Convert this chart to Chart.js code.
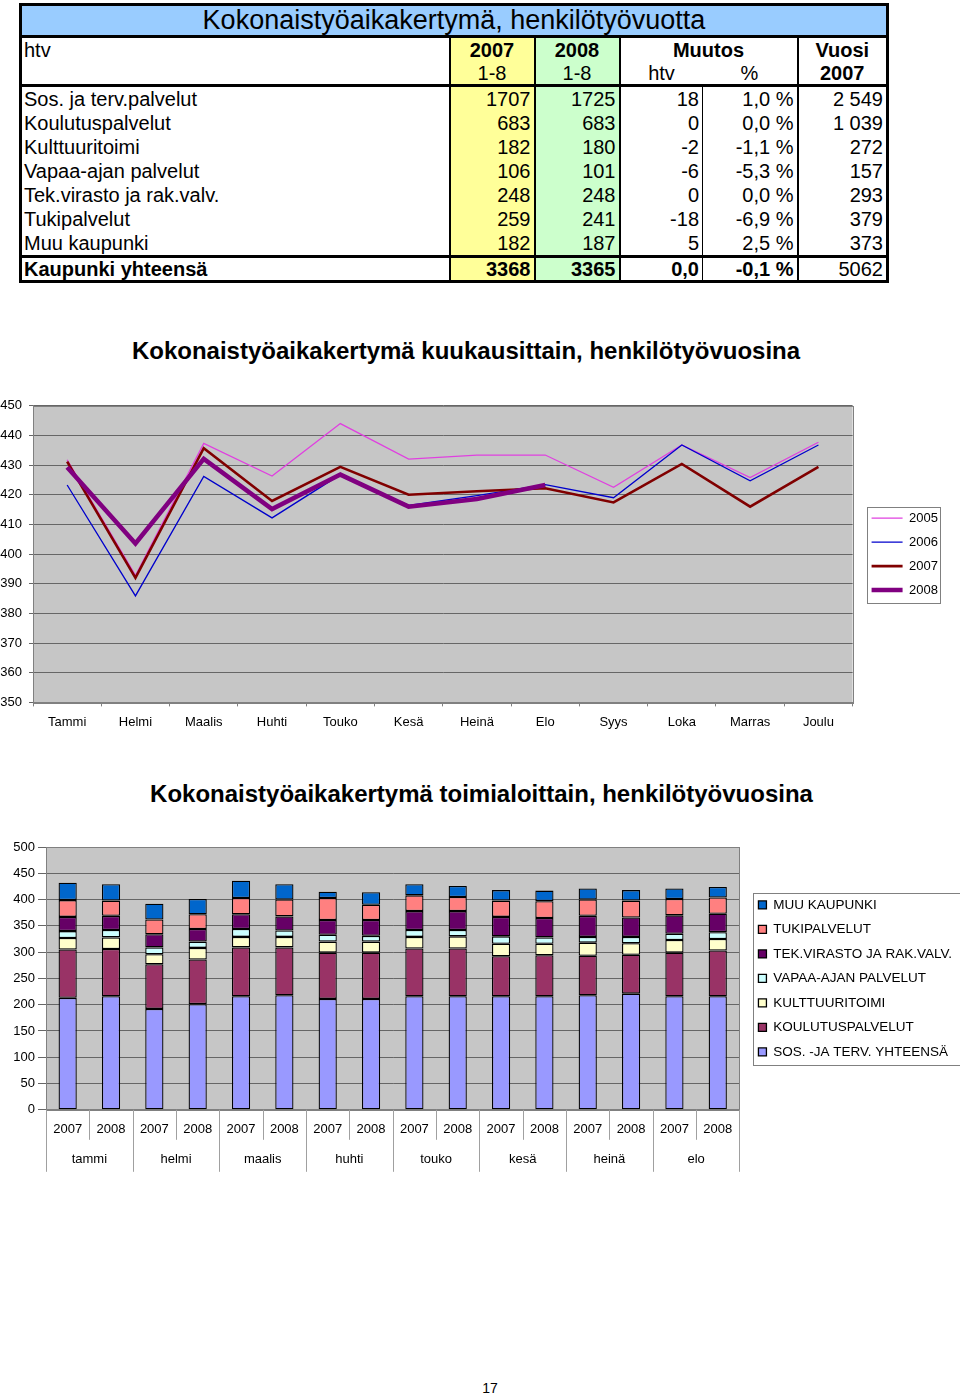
<!DOCTYPE html>
<html>
<head>
<meta charset="utf-8">
<script src="https://cdn.jsdelivr.net/npm/chart.js@4.4.1/dist/chart.umd.min.js"></script>
<style>
html, body { margin: 0; padding: 0; background: #fff; }
body { position: relative; width: 960px; height: 1397px; overflow: hidden; font-family: 'Liberation Sans', Arial, sans-serif; }
#tbl { position: absolute; left: 19px; top: 3px; width: 867px; border-collapse: collapse; table-layout: fixed; font-size: 20px; border: 3px solid #000; }
#tbl td { padding: 0 3px; height: 24px; line-height: 22px; white-space: nowrap; overflow: hidden; }
#tbl .c1 { background: #ffff99; border-left: 2px solid #000; }
#tbl .c2 { background: #ccffcc; border-left: 2px solid #000; }
#tbl .c3 { border-left: 2px solid #000; }
#tbl .c4 { border-left: 1px solid #000; }
#tbl .c5 { border-left: 2px solid #000; }
#tbl .c { text-align: center; }
#tbl .r { text-align: right; }
#tbl .b { font-weight: bold; }
#tbl tr.otsikko td { background: #99ccff; height: 29px; line-height: 29px; font-size: 27px; text-align: center; border-bottom: 3px solid #000; }
#tbl tr.h1 td { height: 24px; }
#tbl tr.h2 td { height: 22px; border-bottom: 3px solid #000; }
#tbl tr.tot td { border-top: 3px solid #000; font-weight: bold; height: 22px; }
#tbl tr.tot td.nb { font-weight: normal; }
#tbl td.nimi { padding-left: 2px; }
.ctitle { position: absolute; left: 0; font-weight: bold; font-size: 24px; line-height: 28px; text-align: center; white-space: nowrap; }
#t1 { top: 337px; width: 932px; }
#t2 { top: 780px; width: 963px; }
canvas { position: absolute; left: 0; }
#lineChart { top: 391px; }
#barChart { top: 830px; }
#sivu { position: absolute; left: 480px; top: 1380px; width: 20px; text-align: center; font-size: 14px; }
</style>
</head>
<body>
<table id="tbl"></table>
<div class="ctitle" id="t1">Kokonaistyöaikakertymä kuukausittain, henkilötyövuosina</div>
<canvas id="lineChart" width="960" height="356"></canvas>
<div class="ctitle" id="t2">Kokonaistyöaikakertymä toimialoittain, henkilötyövuosina</div>
<canvas id="barChart" width="960" height="349"></canvas>
<div id="sivu">17</div>
<script>
// --- taulukon tiedot ---
var riviNimet = ['Sos. ja terv.palvelut', 'Koulutuspalvelut', 'Kulttuuritoimi', 'Vapaa-ajan palvelut', 'Tek.virasto ja rak.valv.', 'Tukipalvelut', 'Muu kaupunki'];
var htv2007 = ['1707', '683', '182', '106', '248', '259', '182'];
var htv2008 = ['1725', '683', '180', '101', '248', '241', '187'];
var muutosHtv = ['18', '0', '-2', '-6', '0', '-18', '5'];
var muutosPros = ['1,0 %', '0,0 %', '-1,1 %', '-5,3 %', '0,0 %', '-6,9 %', '2,5 %'];
var vuosi2007 = ['2 549', '1 039', '272', '157', '293', '379', '373'];
var yhteensa = ['Kaupunki yhteensä', '3368', '3365', '0,0', '-0,1 %', '5062'];

// --- viivakaavion tiedot ---
var kuukaudet = ['Tammi', 'Helmi', 'Maalis', 'Huhti', 'Touko', 'Kesä', 'Heinä', 'Elo', 'Syys', 'Loka', 'Marras', 'Joulu'];
var v2005 = [431.8, 392.8, 437.3, 426.3, 444.0, 432.0, 433.4, 433.4, 422.5, 436.8, 425.8, 437.7];
var v2006 = [423.3, 385.9, 426.2, 412.2, 426.8, 416.4, 419.7, 423.4, 419.0, 436.8, 424.7, 436.8];
var v2007 = [431.2, 392.0, 435.7, 417.9, 429.4, 420.0, 421.2, 422.2, 417.4, 430.4, 416.0, 429.4];
var v2008 = [429.3, 403.6, 432.1, 415.2, 426.8, 416.0, 418.6, 423.3, null, null, null, null];

// --- pylväskaavion tiedot ---
var vuodet = ['2007', '2008', '2007', '2008', '2007', '2008', '2007', '2008', '2007', '2008', '2007', '2008', '2007', '2008', '2007', '2008'];
var ryhmat = ['tammi', 'helmi', 'maalis', 'huhti', 'touko', 'kesä', 'heinä', 'elo'];
var sosTerv = [213, 216, 192, 201, 216, 218, 211, 211, 216, 216, 216, 216, 218, 221, 216, 216];
var koulutus = [92, 90, 85, 85, 93, 91, 88, 88, 91, 91, 76, 78, 75, 74, 83, 87];
var kulttuuri = [22, 22, 19, 22, 20, 20, 21, 21, 22, 23, 24, 22, 25, 22, 24, 22];
var vapaaAika = [13, 14, 13, 12, 15, 12, 13, 11, 13, 12, 14, 12, 11, 12, 12, 13];
var tekVirasto = [27, 27, 25, 24, 28, 27, 28, 30, 36, 36, 37, 37, 40, 37, 35, 35];
var tukipalvelut = [32, 29, 28, 28, 31, 32, 42, 29, 30, 27, 31, 32, 31, 32, 31, 31];
var muuKaupunki = [33, 31, 30, 29, 33, 29, 12, 24, 21, 21, 20, 20, 21, 20, 20, 20];

// taulukko
var html = '<colgroup><col style="width:429px"><col style="width:85px"><col style="width:85px"><col style="width:83px"><col style="width:95px"><col style="width:90px"></colgroup>';
html += '<tr class="otsikko"><td colspan="6">Kokonaistyöaikakertymä, henkilötyövuotta</td></tr>';
html += '<tr class="h1"><td class="nimi">htv</td><td class="c1 b c">2007</td><td class="c2 b c">2008</td><td class="c3 b c" colspan="2">Muutos</td><td class="c5 b c">Vuosi</td></tr>';
html += '<tr class="h2"><td></td><td class="c1 c">1-8</td><td class="c2 c">1-8</td><td class="c3 c">htv</td><td class="c">%</td><td class="c5 b c">2007</td></tr>';
for (var i = 0; i < riviNimet.length; i++) {
    html += '<tr><td class="nimi">' + riviNimet[i] + '</td><td class="c1 r">' + htv2007[i] + '</td><td class="c2 r">' + htv2008[i] +
        '</td><td class="c3 r">' + muutosHtv[i] + '</td><td class="c4 r">' + muutosPros[i] + '</td><td class="c5 r">' + vuosi2007[i] + '</td></tr>';
}
html += '<tr class="tot"><td class="nimi">' + yhteensa[0] + '</td><td class="c1 r">' + yhteensa[1] + '</td><td class="c2 r">' + yhteensa[2] +
    '</td><td class="c3 r">' + yhteensa[3] + '</td><td class="c4 r">' + yhteensa[4] + '</td><td class="c5 r nb">' + yhteensa[5] + '</td></tr>';
document.getElementById('tbl').innerHTML = html;

Chart.defaults.font.family = "'Liberation Sans', Arial, sans-serif";
Chart.defaults.font.size = 13;
Chart.defaults.color = '#000';

// harmaa piirtoalue ja kehys
var plotBg = {
    id: 'plotBg',
    beforeDraw: function (chart) {
        var a = chart.chartArea, c = chart.ctx;
        c.save();
        c.fillStyle = '#c6c6c6';
        c.fillRect(a.left, a.top, a.right - a.left, a.bottom - a.top);
        c.restore();
    },
    afterDraw: function (chart) {
        var a = chart.chartArea, c = chart.ctx;
        c.save();
        c.strokeStyle = '#808080';
        c.lineWidth = 1;
        c.strokeRect(Math.round(a.left) + 0.5, Math.round(a.top) + 0.5, Math.round(a.right - a.left), Math.round(a.bottom - a.top));
        c.restore();
    }
};

// selitteen siirto ja kehys
var legendBox = {
    id: 'legendBox',
    afterLayout: function (chart, args, opts) {
        chart.legend.left += opts.shift;
        chart.legend.right += opts.shift;
    },
    afterDraw: function (chart, args, opts) {
        var boxes = chart.legend.legendHitBoxes;
        if (!boxes || !boxes.length) return;
        var l = Infinity, t = Infinity, r = -Infinity, b = -Infinity;
        boxes.forEach(function (h) {
            l = Math.min(l, h.left); t = Math.min(t, h.top);
            r = Math.max(r, h.left + h.width); b = Math.max(b, h.top + h.height);
        });
        var c = chart.ctx;
        c.save();
        c.strokeStyle = '#808080';
        c.lineWidth = 1;
        c.strokeRect(Math.round(l - opts.padL) + 0.5, Math.round(t - 5) + 0.5, Math.round(r - l + opts.padL + opts.padR), Math.round(b - t + 11));
        c.restore();
    }
};

// ryhmien erotinviivat x-akselin alle
var groupLines = {
    id: 'groupLines',
    afterDraw: function (chart) {
        var x = chart.scales.x, a = chart.chartArea, c = chart.ctx;
        var n = x.ticks.length;
        c.save();
        c.strokeStyle = '#a0a0a0';
        c.lineWidth = 1;
        for (var i = 0; i <= n; i++) {
            var px = i === 0 ? a.left : (i === n ? a.right : (x.getPixelForTick(i - 1) + x.getPixelForTick(i)) / 2);
            var len = i % 2 === 0 ? 62 : 30;
            c.beginPath();
            c.moveTo(Math.round(px) + 0.5, a.bottom);
            c.lineTo(Math.round(px) + 0.5, a.bottom + len);
            c.stroke();
        }
        c.restore();
    }
};

// viivakaavio
new Chart(document.getElementById('lineChart'), {
    type: 'line',
    data: {
        labels: kuukaudet,
        datasets: [
            { label: '2005', data: v2005, borderColor: '#e040e0', backgroundColor: '#e040e0', borderWidth: 1.3, order: 3 },
            { label: '2006', data: v2006, borderColor: '#0000cc', backgroundColor: '#0000cc', borderWidth: 1.3, order: 2 },
            { label: '2007', data: v2007, borderColor: '#800000', backgroundColor: '#800000', borderWidth: 2.6, order: 1 },
            { label: '2008', data: v2008, borderColor: '#800080', backgroundColor: '#800080', borderWidth: 4.5, order: 0 }
        ]
    },
    options: {
        responsive: false,
        animation: false,
        elements: { point: { radius: 0 }, line: { tension: 0 } },
        layout: { padding: { top: 2, left: 0, right: 20, bottom: 9 } },
        scales: {
            x: {
                offset: true,
                grid: { display: true, drawOnChartArea: false, offset: true, tickLength: 4, color: '#808080' },
                border: { color: '#808080' },
                ticks: { padding: 8, maxRotation: 0, autoSkip: false }
            },
            y: {
                min: 350,
                max: 450,
                ticks: { stepSize: 10, padding: 7 },
                grid: { color: '#666666', tickLength: 4 },
                border: { color: '#808080' },
                afterFit: function (scale) { scale.width = 33; }
            }
        },
        plugins: {
            legend: {
                position: 'right',
                fullSize: false,
                labels: {
                    usePointStyle: true, pointStyle: 'line', pointStyleWidth: 31, padding: 11, font: { size: 13 },
                    sort: function (a, b) { return a.datasetIndex - b.datasetIndex; }
                }
            },
            legendBox: { shift: 8, padL: 5, padR: 2 },
            tooltip: { enabled: false }
        }
    },
    plugins: [plotBg, legendBox]
});

// pinottu pylväskaavio
var palkit = [
    { label: 'SOS. -JA TERV. YHTEENSÄ', data: sosTerv, backgroundColor: '#9999ff' },
    { label: 'KOULUTUSPALVELUT', data: koulutus, backgroundColor: '#993366' },
    { label: 'KULTTUURITOIMI', data: kulttuuri, backgroundColor: '#ffffcc' },
    { label: 'VAPAA-AJAN PALVELUT', data: vapaaAika, backgroundColor: '#ccffff' },
    { label: 'TEK.VIRASTO JA RAK.VALV.', data: tekVirasto, backgroundColor: '#660066' },
    { label: 'TUKIPALVELUT', data: tukipalvelut, backgroundColor: '#ff8080' },
    { label: 'MUU KAUPUNKI', data: muuKaupunki, backgroundColor: '#0066cc' }
];
palkit.forEach(function (d) {
    d.borderColor = '#000';
    d.borderWidth = 1.3;
    d.borderSkipped = false;
    d.barPercentage = 0.42;
    d.categoryPercentage = 1;
});

new Chart(document.getElementById('barChart'), {
    type: 'bar',
    data: { labels: vuodet, datasets: palkit },
    options: {
        responsive: false,
        animation: false,
        layout: { padding: { top: 17, left: 0, right: 6, bottom: 10 } },
        scales: {
            x: {
                stacked: true,
                grid: { display: false, drawTicks: false },
                border: { color: '#808080' },
                ticks: { padding: 12, maxRotation: 0, autoSkip: false }
            },
            x2: {
                type: 'category',
                labels: ryhmat,
                position: 'bottom',
                offset: true,
                grid: { display: false, drawTicks: false },
                border: { display: false },
                ticks: { padding: 2, maxRotation: 0, autoSkip: false }
            },
            y: {
                stacked: true,
                min: 0,
                max: 500,
                ticks: { stepSize: 50, padding: 3 },
                grid: { color: '#666666', tickLength: 8 },
                border: { color: '#808080' },
                afterFit: function (scale) { scale.width = 46; }
            }
        },
        plugins: {
            legend: {
                position: 'right',
                fullSize: false,
                reverse: true,
                labels: { boxWidth: 8, boxHeight: 8, padding: 11, font: { size: 13.5 } }
            },
            legendBox: { shift: 8, padL: 5, padR: 14 },
            tooltip: { enabled: false }
        }
    },
    plugins: [plotBg, legendBox, groupLines]
});
</script>
</body>
</html>
